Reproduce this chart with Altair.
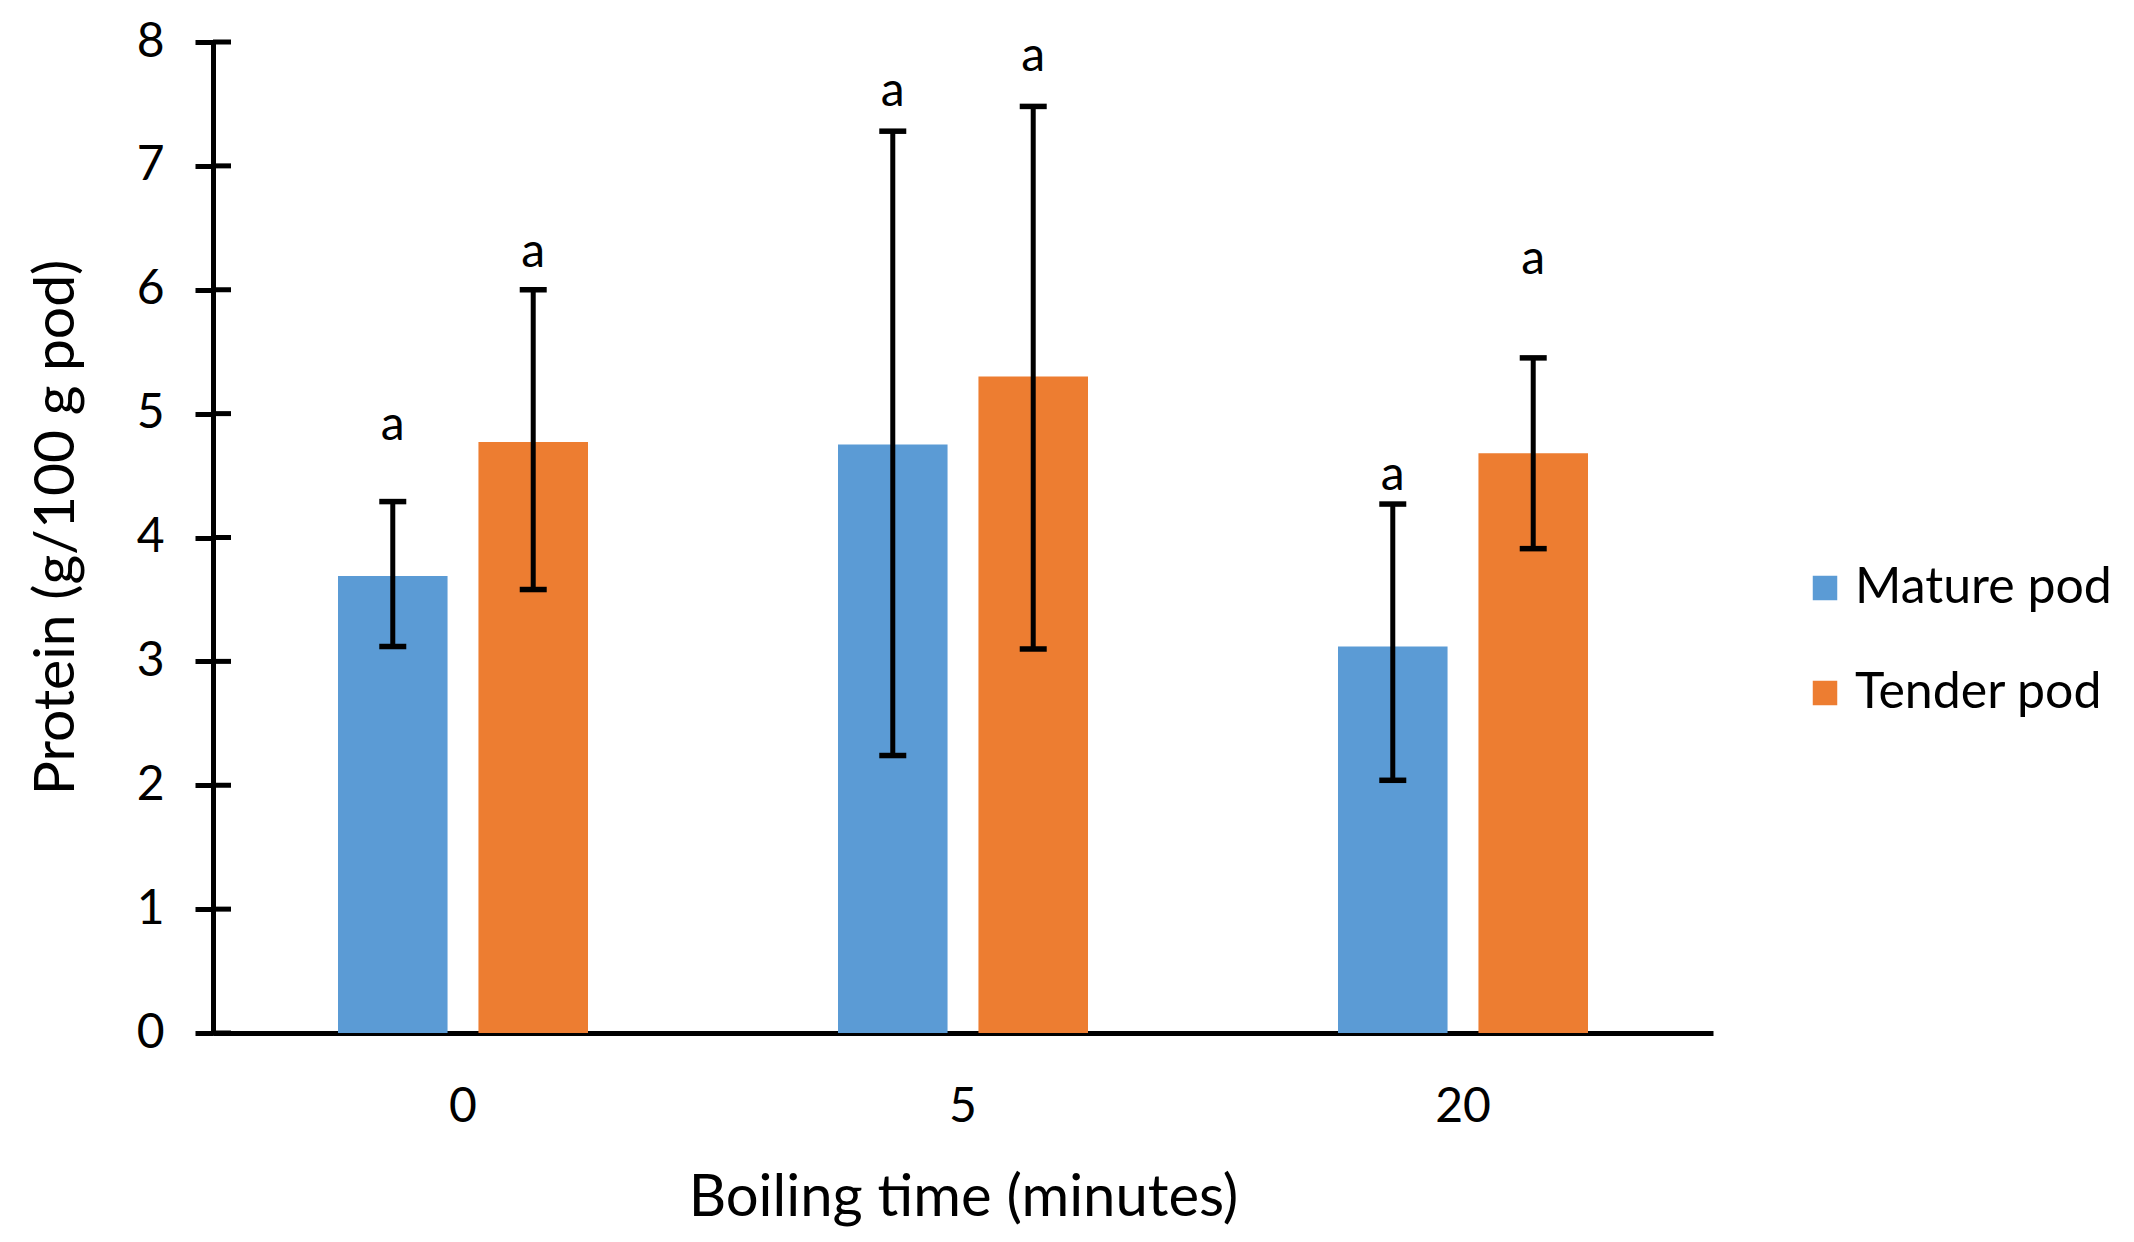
import altair as alt
import pandas as pd

times = ["0", "5", "20"]
series = ["Mature pod", "Tender pod"]
colors = ["#5B9BD5", "#ED7D31"]

mature_vals = [3.69, 4.75, 3.12]
tender_vals = [4.77, 5.30, 4.68]
mature_upper = [4.29, 7.28, 4.27]
mature_lower = [3.12, 2.24, 2.04]
tender_upper = [6.00, 7.48, 5.45]
tender_lower = [3.58, 3.10, 3.91]
mature_label_y = [4.90, 7.60, 4.50]
tender_label_y = [6.30, 7.88, 6.24]
sig_labels = ["a", "a", "a", "a", "a", "a"]
y_ticks = [0, 1, 2, 3, 4, 5, 6, 7, 8]

rows = []
for i, t in enumerate(times):
    rows.append(dict(time=t, series=series[0], value=mature_vals[i],
                     upper=mature_upper[i], lower=mature_lower[i],
                     label_y=mature_label_y[i], sig=sig_labels[2 * i]))
    rows.append(dict(time=t, series=series[1], value=tender_vals[i],
                     upper=tender_upper[i], lower=tender_lower[i],
                     label_y=tender_label_y[i], sig=sig_labels[2 * i + 1]))
df = pd.DataFrame(rows)
ticks_df = pd.DataFrame({"t": y_ticks})

FONT = "Lato"

x_enc = alt.X(
    "time:N",
    sort=times,
    scale=alt.Scale(paddingInner=0.5, paddingOuter=0.25),
    axis=alt.Axis(
        title="Boiling time (minutes)",
        titleFontSize=58,
        titleFont=FONT,
        titleFontWeight="normal",
        titleColor="black",
        titleY=136,
        titleBaseline="top",
        labelFontSize=48,
        labelFont=FONT,
        labelColor="black",
        labelAngle=0,
        labelPadding=50,
        ticks=False,
        tickSize=0,
        domainColor="black",
        domainWidth=5,
        grid=False,
    ),
)
xoff_enc = alt.XOffset(
    "series:N", sort=series, scale=alt.Scale(paddingInner=0.22, paddingOuter=0)
)
y_scale = alt.Scale(domain=[0, 8], nice=False, zero=True)

bars = alt.Chart(df).mark_bar().encode(
    x=x_enc,
    xOffset=xoff_enc,
    y=alt.Y(
        "value:Q",
        scale=y_scale,
        axis=alt.Axis(
            title="Protein (g/100 g pod)",
            titleFontSize=57,
            titleFont=FONT,
            titleFontWeight="normal",
            titleColor="black",
            titleX=-140,
            titleY=485,
            titleBaseline="alphabetic",
            values=y_ticks,
            format="d",
            labelFontSize=48,
            labelFont=FONT,
            labelColor="black",
            labelPadding=31,
            tickSize=18,
            tickWidth=5,
            tickColor="black",
            domainColor="black",
            domainWidth=5,
            grid=False,
        ),
    ),
    color=alt.Color(
        "series:N",
        scale=alt.Scale(domain=series, range=colors),
        legend=alt.Legend(
            title=None,
            orient="none",
            legendX=1587,
            legendY=521,
            symbolType="square",
            symbolSize=600,
            symbolStrokeWidth=0,
            symbolOpacity=1,
            labelFontSize=50,
            labelFont=FONT,
            labelColor="black",
            labelOffset=5,
            labelLimit=0,
            rowPadding=55,
            padding=0,
        ),
    ),
)

inner_ticks = alt.Chart(ticks_df).mark_rule(color="black", strokeWidth=5).encode(
    y=alt.Y("t:Q", scale=y_scale),
    x=alt.value(0),
    x2=alt.value(18),
)

err = alt.Chart(df).mark_rule(color="black", strokeWidth=5).encode(
    x=alt.X("time:N", sort=times),
    xOffset=alt.XOffset("series:N", sort=series),
    y=alt.Y("lower:Q", scale=y_scale),
    y2="upper:Q",
)
cap_up = alt.Chart(df).mark_tick(color="black", thickness=5.5, size=27, opacity=1).encode(
    x=alt.X("time:N", sort=times),
    xOffset=alt.XOffset("series:N", sort=series),
    y=alt.Y("upper:Q", scale=y_scale),
)
cap_lo = alt.Chart(df).mark_tick(color="black", thickness=5.5, size=27, opacity=1).encode(
    x=alt.X("time:N", sort=times),
    xOffset=alt.XOffset("series:N", sort=series),
    y=alt.Y("lower:Q", scale=y_scale),
)
labels = alt.Chart(df).mark_text(
    font=FONT, fontSize=48, baseline="middle", color="black"
).encode(
    x=alt.X("time:N", sort=times),
    xOffset=alt.XOffset("series:N", sort=series),
    y=alt.Y("label_y:Q", scale=y_scale),
    text="sig:N",
)

chart = (
    alt.layer(bars, err, cap_up, cap_lo, labels, inner_ticks)
    .properties(
        width=1500,
        height=991,
        autosize=alt.AutoSizeParams(type="none"),
        padding={"left": 205, "top": 34, "right": 413, "bottom": 195},
    )
    .configure(
        font=FONT,
        background="white",
        view=alt.ViewConfig(stroke="transparent", strokeWidth=0),
    )
)

chart.save("out.html", embed_options={"renderer": "svg", "actions": False})
